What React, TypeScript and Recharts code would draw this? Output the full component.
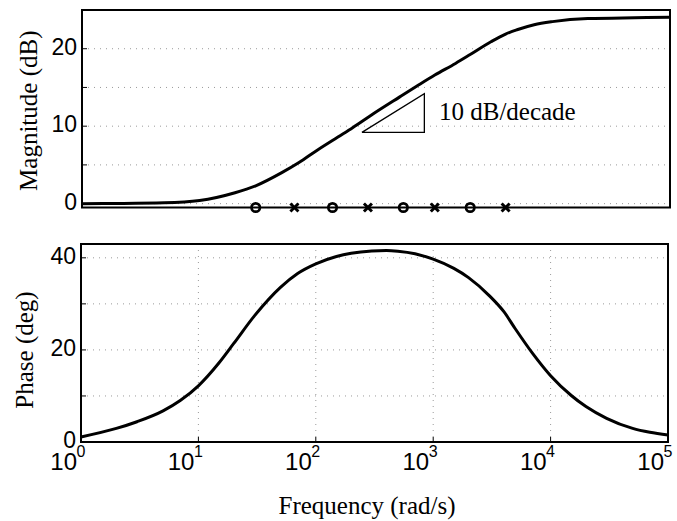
import { CartesianGrid, ComposedChart, Label, Line, ReferenceArea, ReferenceDot, Scatter, XAxis, YAxis } from 'recharts';

const SANS = '"Liberation Sans", Arial, Helvetica, sans-serif';
const SERIF = '"Liberation Serif", "Times New Roman", serif';

const freqTicks = [1, 10, 100, 1000, 10000, 100000];
const magTicks = [0, 5, 10, 15, 20];
const phaseTicks = [0, 10, 20, 30, 40];

// magnitude curve
const magFreq = [1, 2, 5, 10, 20, 30, 50, 70, 100, 150, 200, 300, 500, 700, 1000, 1500, 2000, 3000, 4000, 5000, 7000, 10000, 20000, 50000, 100000];
const magDb = [0, 0.02, 0.1, 0.4, 1.4, 2.3, 4.0, 5.3, 6.9, 8.6, 9.8, 11.6, 13.75, 15.15, 16.6, 18.1, 19.25, 20.9, 21.9, 22.45, 23.1, 23.5, 23.9, 24.0, 24.05];

// phase curve
const phaseFreq = [1, 2, 3, 5, 7, 10, 15, 20, 30, 50, 70, 100, 150, 200, 300, 400, 500, 700, 1000, 1500, 2000, 3000, 4000, 5000, 7000, 10000, 15000, 20000, 30000, 50000, 70000, 100000];
const phaseDeg = [1.1, 2.95, 4.4, 6.75, 9.0, 12.2, 17.2, 21.4, 27.4, 33.6, 36.6, 38.7, 40.3, 41.0, 41.5, 41.6, 41.45, 40.9, 39.7, 37.7, 35.7, 31.8, 28.3, 24.6, 19.3, 14.4, 10.1, 7.7, 5.15, 2.95, 2.1, 1.5];

// zeros (o) and poles (x) along the bottom of the magnitude plot
const zeroFreq = [30, 135, 540, 2000];
const poleFreq = [64, 270, 1000, 4000];
const markerLevel = -0.5;

// slope triangle and its note
const triFreq = [240, 815, 815, 240];
const triDb = [9.2, 9.2, 14.2, 9.2];
const noteFreq = 1085;
const noteDb = 11.9;

const magDomain = [-0.5, 25];
const phaseDomain = [0, 43];

const magData = magFreq.map((f, i) => ({ f, db: magDb[i] }));
const phaseData = phaseFreq.map((f, i) => ({ f, deg: phaseDeg[i] }));
const zeroPts = zeroFreq.map((f) => ({ f, db: markerLevel }));
const polePts = poleFreq.map((f) => ({ f, db: markerLevel }));
const triData = triFreq.map((f, i) => ({ f, db: triDb[i] }));

function Ring(p: any) {
  return <circle cx={p.cx} cy={p.cy} r={4.2} fill="none" stroke="#000" strokeWidth={2.7} />;
}

function Cross(p: any) {
  const s = 4;
  return (
    <g stroke="#000" strokeWidth={3}>
      <line x1={p.cx - s} y1={p.cy - s} x2={p.cx + s} y2={p.cy + s} />
      <line x1={p.cx - s} y1={p.cy + s} x2={p.cx + s} y2={p.cy - s} />
    </g>
  );
}

function DecadeTick(props: any) {
  const { x, y, payload } = props;
  const exp = Math.round(Math.log10(payload.value));
  return (
    <g fill="#000" fontFamily={SANS}>
      <text x={x - 4} y={y} textAnchor="end" fontSize={24}>10</text>
      <text x={x - 4.5} y={y - 13.3} textAnchor="start" fontSize={16}>{exp}</text>
    </g>
  );
}

const axisLine = { stroke: '#000', strokeWidth: 2 };
const tickLine = { stroke: '#000', strokeWidth: 1 };
const yTick = { fill: '#000', fontSize: 23, fontFamily: SANS, dy: -2 };

export default function App() {
  return (
    <div style={{ position: 'absolute', left: 0, top: 0, width: 677, height: 521, background: '#fff' }}>
      <ComposedChart width={677} height={216} margin={{ top: 10, right: 7, bottom: 8.5, left: 8 }}>
        <CartesianGrid stroke="#9a9a9a" strokeDasharray="1 5" />
        <XAxis dataKey="f" type="number" scale="log" domain={[1, 100000]} ticks={freqTicks} interval={0} height={0} tick={false} tickSize={-5} axisLine={axisLine} tickLine={tickLine} />
        <XAxis xAxisId="top" orientation="top" dataKey="f" type="number" scale="log" domain={[1, 100000]} ticks={freqTicks} interval={0} height={0} tick={false} tickSize={-5} axisLine={axisLine} tickLine={tickLine} />
        <YAxis type="number" domain={magDomain} ticks={magTicks} interval={0} width={74} tickSize={-5} tickMargin={10} axisLine={axisLine} tickLine={tickLine} tick={yTick} tickFormatter={(v: number) => (v % 10 === 0 ? String(v) : '')}>
          <Label value="Magnitude (dB)" angle={-90} position="center" dx={-16.5} dy={2} fill="#000" fontSize={25} fontFamily={SERIF} />
        </YAxis>
        <YAxis yAxisId="right" orientation="right" type="number" domain={magDomain} ticks={magTicks} interval={0} width={0} tick={false} tickSize={-5} axisLine={axisLine} tickLine={tickLine} />
        <ReferenceArea x1={1} x2={100000} y1={magDomain[0]} y2={magDomain[1]} fill="none" stroke="#000" strokeWidth={2} ifOverflow="visible" />
        <Line data={magData} dataKey="db" type="monotone" stroke="#000" strokeWidth={3} dot={false} isAnimationActive={false} />
        <Line data={triData} dataKey="db" type="linear" stroke="#000" strokeWidth={1.3} dot={false} isAnimationActive={false} />
        <Scatter data={zeroPts} dataKey="db" shape={Ring} isAnimationActive={false} />
        <Scatter data={polePts} dataKey="db" shape={Cross} isAnimationActive={false} />
        <ReferenceDot x={noteFreq} y={noteDb} r={0} stroke="none" fill="none" label={{ value: '10 dB/decade', position: 'right', offset: 0, fill: '#000', fontSize: 25, fontFamily: SERIF }} />
      </ComposedChart>
      <ComposedChart width={677} height={305} margin={{ top: 28, right: 9, bottom: 0, left: 7 }}>
        <CartesianGrid stroke="#9a9a9a" strokeDasharray="1 5" />
        <XAxis dataKey="f" type="number" scale="log" domain={[1, 100000]} ticks={freqTicks} interval={0} height={79} tick={DecadeTick} tickSize={-5} tickMargin={33} axisLine={axisLine} tickLine={tickLine}>
          <Label value="Frequency (rad/s)" position="insideBottom" offset={7} dx={-7.5} fill="#000" fontSize={25} fontFamily={SERIF} />
        </XAxis>
        <XAxis xAxisId="top" orientation="top" dataKey="f" type="number" scale="log" domain={[1, 100000]} ticks={freqTicks} interval={0} height={0} tick={false} tickSize={-5} axisLine={axisLine} tickLine={tickLine} />
        <YAxis type="number" domain={phaseDomain} ticks={phaseTicks} interval={0} width={74} tickSize={-5} tickMargin={10} axisLine={axisLine} tickLine={tickLine} tick={yTick} tickFormatter={(v: number) => (v % 20 === 0 ? String(v) : '')}>
          <Label value="Phase (deg)" angle={-90} position="center" dx={-20} dy={7} fill="#000" fontSize={25} fontFamily={SERIF} />
        </YAxis>
        <YAxis yAxisId="right" orientation="right" type="number" domain={phaseDomain} ticks={phaseTicks} interval={0} width={0} tick={false} tickSize={-5} axisLine={axisLine} tickLine={tickLine} />
        <ReferenceArea x1={1} x2={100000} y1={phaseDomain[0]} y2={phaseDomain[1]} fill="none" stroke="#000" strokeWidth={2} ifOverflow="visible" />
        <Line data={phaseData} dataKey="deg" type="monotone" stroke="#000" strokeWidth={3} dot={false} isAnimationActive={false} />
      </ComposedChart>
    </div>
  );
}
